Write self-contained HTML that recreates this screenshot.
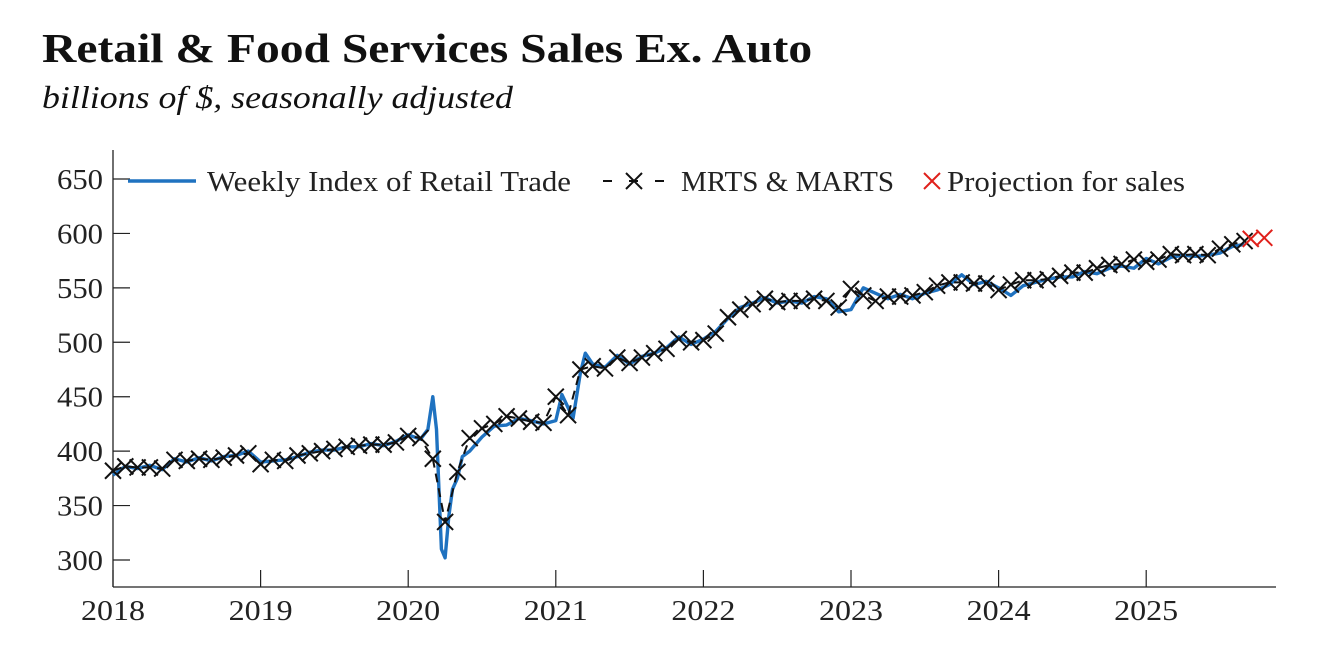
<!DOCTYPE html>
<html><head><meta charset="utf-8"><style>
body{margin:0;background:#fff;width:1338px;height:666px;overflow:hidden;font-family:"Liberation Serif",serif}
#title{position:absolute;left:42px;top:24px;font-size:41px;font-weight:bold;color:#111;transform-origin:0 0;transform:scaleX(1.16);white-space:nowrap}
#sub{position:absolute;left:42px;top:79px;font-size:32px;font-style:italic;color:#111;transform-origin:0 0;transform:scaleX(1.12);white-space:nowrap}
svg{position:absolute;left:0;top:0}
</style></head><body>
<div id="title">Retail &amp; Food Services Sales Ex. Auto</div>
<div id="sub">billions of $, seasonally adjusted</div>
<svg id="c" width="1338" height="666"></svg>
<script>
const years=['2018','2019','2020','2021','2022','2023','2024','2025'];
const yTicks=[300,350,400,450,500,550,600,650];
const mrts=[382,386,385,385,384,392,391,393,392,394,396,398,
388,392,391,396,398,400,402,404,405,406,406,408,
414,412,393,335,381,412,421,425,432,430,427,426,
450,433,475,478,476,486,481,486,490,494,503,500,
502,508,523,530,535,540,537,538,538,540,538,532,
549,543,538,542,542,543,546,552,555,555,554,554,
548,553,557,557,558,561,564,564,568,571,572,576,
574,576,581,580,581,580,586,590,593];
const projMonths=[92.5,93.6];
const projVals=[595,596];
const weeklyMonths=[0,1,2,3,4,5,6,7,8,9,10,11,12,13,14,15,16,17,18,19,20,21,22,23,24,25,25.6,26,26.3,26.7,27,27.3,27.6,28,28.4,29,30,31,32,33,34,35,
36,36.5,37,37.4,38,38.4,39,40,41,42,43,44,45,46,47,48,49,50,51,52,53,54,55,56,57,58,59,60,61,62,63,64,65,66,67,68,69,70,71,72,73,74,75,76,77,78,79,80,81,82,83,84,85,86,87,88,89,90,91,92];
const weeklyVals=[378,386,384,387,383,393,390,394,391,395,396,400,
390,391,392,395,399,401,401,404,404,407,405,409,415,411,420,450,420,310,302,340,365,375,395,400,413,423,424,430,428,425,
428,452,440,430,472,490,480,477,488,480,487,490,495,505,498,503,510,522,532,536,541,536,538,536,542,540,528,530,
550,545,540,544,540,545,548,553,562,553,556,550,543,552,555,558,560,560,565,563,568,570,568,577,572,578,580,579,580,582,588,590,598];
const svg=document.getElementById('c');const NS='http://www.w3.org/2000/svg';
const x0=113,pxYear=147.6;
const xm=m=>x0+m*pxYear/12;
const y=v=>560-(v-300)*(381/350);
function el(t,a){const e=document.createElementNS(NS,t);for(const k in a)e.setAttribute(k,a[k]);svg.appendChild(e);return e;}
let e=el('line',{x1:x0,y1:150,x2:x0,y2:587,stroke:'#222','stroke-width':1.3});

e=el('line',{x1:x0,y1:587,x2:1276,y2:587,stroke:'#222','stroke-width':1.3});

yTicks.forEach(v=>{
 let l=el('line',{x1:x0,y1:y(v),x2:x0+17,y2:y(v),stroke:'#222','stroke-width':1.2});
 
 let t=el('text',{x:103,y:y(v)+10,'text-anchor':'end','font-size':28,fill:'#222',textLength:46,lengthAdjust:'spacingAndGlyphs'});t.textContent=v;
 
});
years.forEach((yr,i)=>{
 const xx=xm(i*12);
 let l=el('line',{x1:xx,y1:570,x2:xx,y2:587,stroke:'#222','stroke-width':1.2});
 
 let t=el('text',{x:xx-32,y:620,'font-size':28,fill:'#222',textLength:64,lengthAdjust:'spacingAndGlyphs'});t.textContent=yr;
 
});
let p=el('polyline',{points:weeklyMonths.map((m,i)=>xm(m)+','+y(weeklyVals[i])).join(' '),fill:'none',stroke:'#1f72c0','stroke-width':3.4,'stroke-linejoin':'round'});

p=el('polyline',{points:mrts.map((v,i)=>xm(i)+','+y(v)).join(' '),fill:'none',stroke:'#111','stroke-width':2,'stroke-dasharray':'9,6'});

function cross(cx,cy,col,name){const s=8;
 let g=el('path',{d:`M${cx-s},${cy-s}L${cx+s},${cy+s}M${cx-s},${cy+s}L${cx+s},${cy-s}`,stroke:col,'stroke-width':2,fill:'none'});
 }
mrts.forEach((v,i)=>cross(xm(i),y(v),'#111','mrts-marker'));
projVals.forEach((v,i)=>cross(xm(projMonths[i]),y(v),'#e0201b','projection-marker'));
e=el('line',{x1:128,y1:181,x2:196,y2:181,stroke:'#1f72c0','stroke-width':3.4});

let t=el('text',{x:207,y:191,'font-size':28,fill:'#222',textLength:364,lengthAdjust:'spacingAndGlyphs'});t.textContent='Weekly Index of Retail Trade';

e=el('line',{x1:603,y1:181,x2:665,y2:181,stroke:'#111','stroke-width':2,'stroke-dasharray':'9,17'});

cross(634,181,'#111','legend-mrts-marker');
t=el('text',{x:681,y:191,'font-size':28,fill:'#222',textLength:213,lengthAdjust:'spacingAndGlyphs'});t.textContent='MRTS & MARTS';

cross(932,181,'#e0201b','legend-projection-marker');
t=el('text',{x:947,y:191,'font-size':28,fill:'#222',textLength:238,lengthAdjust:'spacingAndGlyphs'});t.textContent='Projection for sales';

</script>
</body></html>
